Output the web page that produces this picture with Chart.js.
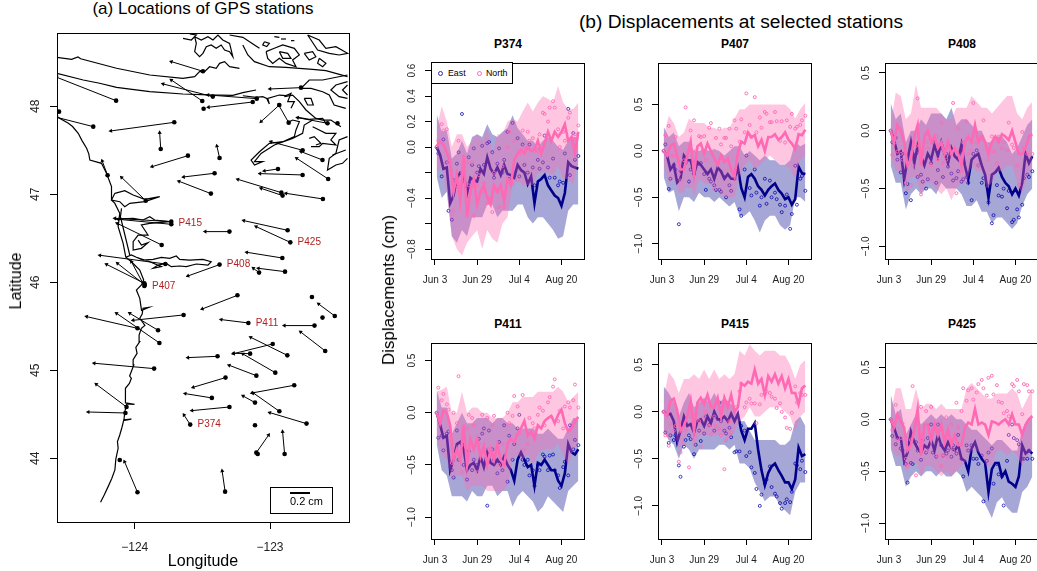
<!DOCTYPE html>
<html>
<head>
<meta charset="utf-8">
<script src="https://cdn.jsdelivr.net/npm/chart.js@4"></script>
<style>
    html, body { margin: 0; padding: 0; background: #fff; overflow: hidden; width: 1037px; height: 571px; }
    body { position: relative; font-family: "Liberation Sans", Arial, sans-serif; color: #000; }
    canvas { position: absolute; }
    .txt { position: absolute; white-space: nowrap; transform: translate(-50%, -50%); z-index: 3; }
    .rot { transform: translate(-50%, -50%) rotate(-90deg); }
    .legend { position: absolute; left: 431px; top: 62px; width: 80px; height: 20px; border: 1px solid #000; background: #fff; font-size: 8.8px; z-index: 3; }
    .legend i { position: absolute; top: 8px; width: 3px; height: 3px; border-radius: 50%; border: 1px solid; }
    .legend span { position: absolute; top: 5px; }
    .scalebox { position: absolute; left: 270px; top: 487px; width: 61px; height: 25px; border: 1px solid #000; z-index: 3; }
    .scalebar { position: absolute; left: 19px; top: 4px; width: 20px; height: 2px; background: #000; }
    .scaletxt { position: absolute; left: 19px; top: 7px; font-size: 11px; }
</style>
</head>
<body>
<div class="legend">
    <i style="left:6px;border-color:#2a2aa8"></i><span style="left:16px">East</span>
    <i style="left:45px;border-color:#ff69b4"></i><span style="left:54px">North</span>
</div>
<div class="scalebox"><div class="scalebar"></div><div class="scaletxt">0.2 cm</div></div>
<script>
// ---- map: stations, arrow tips (null = no arrow), coast pieces ----
const stationLon = [-124.138,-123.496,-123.501,-123.423,-123.098,-123.128,-123.491,-122.771,-122.931,-122.862,-124.560,-124.307,-123.708,-123.808,-123.373,-123.607,-124.201,-123.919,-123.410,-123.437,-122.941,-122.759,-122.916,-122.907,-122.609,-122.570,-122.612,-122.759,-122.870,-122.850,-123.300,-123.730,-123.730,-123.801,-122.909,-122.889,-123.081,-123.373,-123.774,-123.929,-123.926,-123.929,-122.575,-122.501,-123.241,-122.690,-122.612,-122.521,-123.639,-123.828,-123.980,-123.818,-123.160,-122.671,-122.592,-122.872,-122.980,-123.147,-122.961,-123.388,-123.857,-123.101,-123.329,-122.821,-123.430,-123.111,-122.931,-123.300,-122.730,-124.061,-124.069,-123.590,-123.111,-123.101,-123.091,-122.892,-124.111,-123.980,-123.332];
const stationLat = [48.064,48.398,48.061,48.110,48.087,48.049,47.973,48.212,48.015,47.814,47.939,47.769,47.818,47.515,47.413,47.439,47.216,46.928,47.239,47.008,47.288,47.220,47.019,46.985,46.947,47.174,47.390,47.500,46.591,46.454,46.576,46.689,46.659,46.424,46.276,46.121,46.110,46.201,46.208,45.989,45.970,45.958,47.807,47.807,45.852,45.833,45.599,45.617,45.629,45.455,45.477,45.311,45.538,45.508,45.220,45.170,45.299,45.189,44.973,45.159,45.019,44.939,44.917,44.830,44.686,44.633,44.534,44.583,44.394,44.583,44.515,44.383,44.375,44.064,44.049,44.049,43.981,43.614,43.621];
const tipLon = [-124.577,-123.730,-123.730,-123.791,-123.459,-123.455,null,-123.000,-123.066,-122.936,null,-124.577,-124.177,-123.816,-123.393,-123.872,-124.241,-124.098,-123.639,-123.673,-123.042,-123.074,-123.238,-123.066,-122.882,-122.803,-122.771,-122.993,-123.194,-123.103,-123.479,-124.147,-124.123,-124.130,-123.172,-123.086,-123.123,-123.607,-124.258,-124.209,-124.128,-124.025,-122.796,null,-123.501,null,null,-122.641,-124.012,-124.037,-124.356,-124.135,-123.361,-122.894,-122.774,-123.143,-123.270,-123.270,-123.201,-123.607,-124.300,-123.302,-123.568,-123.133,-123.627,-123.199,-123.123,-123.577,-123.002,-124.285,-124.344,-123.636,null,-123.010,null,-122.907,null,-124.076,-123.354];
const tipLat = [48.330,48.508,48.299,48.254,48.129,47.989,null,48.197,47.826,48.015,null,47.875,47.720,47.701,47.549,47.314,47.379,47.193,47.197,47.148,47.265,47.235,47.170,47.068,47.011,47.409,47.485,47.598,46.701,46.633,46.576,46.727,46.716,46.670,46.341,46.159,46.159,46.072,46.307,46.204,46.216,46.235,47.871,null,45.697,null,null,45.754,45.568,45.648,45.610,45.648,45.576,45.508,45.436,45.375,45.189,45.193,45.186,45.144,45.080,45.057,44.807,44.742,44.735,44.708,44.742,44.542,44.519,44.841,44.526,44.492,null,44.265,null,44.303,null,43.962,43.856];

const stationLabels = ['P415', 'P425', 'P408', 'P407', 'P411', 'P374'];
const stationLabelLon = [-123.730, -122.850, -123.373, -123.926, -123.160, -123.590];
const stationLabelLat = [46.672, 46.454, 46.201, 45.955, 45.538, 44.383];

const coastSouth = [[-124.253,43.500],[-124.225,43.585],[-124.197,43.678],[-124.170,43.770],[-124.147,43.867],[-124.140,43.990],[-124.123,44.114],[-124.128,44.190],[-124.111,44.265],[-124.095,44.350],[-124.081,44.436],[-124.025,44.445],[-124.081,44.430],[-124.072,44.540],[-124.060,44.618],[-124.002,44.612],[-124.066,44.630],[-124.072,44.720],[-124.066,44.795],[-124.040,44.850],[-124.025,44.909],[-124.038,44.935],[-124.007,45.061],[-124.012,45.120],[-123.983,45.193],[-123.992,45.260],[-123.963,45.326],[-123.968,45.400],[-123.951,45.477],[-123.925,45.510],[-123.963,45.591],[-123.945,45.640],[-123.939,45.705],[-123.894,45.715],[-123.950,45.680],[-123.963,45.818],[-123.988,45.912],[-123.951,45.969],[-123.934,46.026],[-123.963,46.140],[-124.025,46.234],[-124.066,46.284]];
const columbiaRiver = [[-124.066,46.284],[-124.025,46.310],[-123.988,46.284],[-123.939,46.253],[-123.865,46.261],[-123.803,46.284],[-123.742,46.272],[-123.693,46.299],[-123.668,46.261],[-123.595,46.253],[-123.496,46.261],[-123.435,46.234],[-123.459,46.196],[-123.545,46.208],[-123.619,46.178],[-123.668,46.185],[-123.730,46.178],[-123.767,46.215],[-123.828,46.196],[-123.865,46.159],[-123.803,46.178],[-123.889,46.234],[-123.988,46.284]];
const longBeach = [[-124.066,46.284],[-124.086,46.443],[-124.123,46.632],[-124.111,46.784],[-124.147,46.897],[-124.172,46.935]];
const longBeachInner = [[-124.098,46.840],[-124.106,46.746],[-124.037,46.310]];
const willapaBay = [[-124.147,46.719],[-124.012,46.727],[-123.939,46.708],[-123.889,46.746],[-123.853,46.708],[-123.742,46.689],[-123.889,46.670],[-123.951,46.651],[-123.902,46.537],[-123.975,46.537],[-124.012,46.462],[-124.012,46.367],[-123.951,46.386],[-123.902,46.450],[-123.951,46.424],[-123.975,46.480]];
const graysHarbor = [[-124.147,47.011],[-124.074,47.041],[-124.012,46.992],[-123.926,46.943],[-123.816,46.973],[-123.926,46.916],[-124.037,46.897],[-124.074,46.859],[-124.111,46.916],[-124.172,46.935],[-124.147,47.011]];
const coastNorth = [[-124.172,46.935],[-124.172,47.087],[-124.209,47.238],[-124.246,47.352],[-124.332,47.390],[-124.340,47.460],[-124.356,47.523],[-124.390,47.610],[-124.418,47.693],[-124.460,47.770],[-124.491,47.807],[-124.577,47.883]];
const straitSouth = [[-124.577,48.375],[-124.381,48.299],[-124.260,48.262],[-124.135,48.216],[-123.889,48.167],[-123.644,48.140],[-123.459,48.129],[-123.275,48.125],[-123.201,48.155],[-123.103,48.185]];
const straitEnd = [[-123.201,48.120],[-123.103,48.102],[-123.054,48.109],[-123.024,48.090],[-123.005,48.026],[-123.017,48.090],[-122.931,48.128],[-122.882,48.121],[-122.845,48.147],[-122.869,48.053],[-122.820,48.053],[-122.845,47.977]];
const straitNorth = [[-124.577,48.557],[-124.467,48.534],[-124.420,48.560],[-124.400,48.540],[-124.135,48.432],[-123.889,48.356],[-123.644,48.318],[-123.557,48.337],[-123.521,48.394],[-123.484,48.394],[-123.447,48.450],[-123.398,48.431],[-123.373,48.488],[-123.336,48.507],[-123.299,48.450],[-123.226,48.431]];
const islandCluster = [[-123.557,48.791],[-123.545,48.715],[-123.557,48.621],[-123.521,48.564],[-123.496,48.602],[-123.471,48.678],[-123.435,48.697],[-123.398,48.659],[-123.361,48.697],[-123.336,48.640],[-123.299,48.621],[-123.275,48.564],[-123.299,48.715],[-123.349,48.753],[-123.385,48.810],[-123.422,48.753],[-123.459,48.791],[-123.508,48.753],[-123.557,48.791]];
const topLeftBit = [[-123.643,48.772],[-123.582,48.753],[-123.545,48.810],[-123.594,48.822]];
const mainlandNorth = [[-123.201,48.697],[-123.164,48.583],[-123.115,48.507],[-123.005,48.450],[-122.882,48.443],[-122.685,48.420],[-122.587,48.405],[-122.427,48.337]];
const sanJuanA = [[-123.029,48.621],[-122.968,48.659],[-122.906,48.697],[-122.820,48.659],[-122.783,48.583],[-122.833,48.526],[-122.808,48.450],[-122.882,48.488],[-122.931,48.545],[-122.980,48.488],[-123.017,48.545],[-123.029,48.621]];
const sanJuanB = [[-122.931,48.621],[-122.869,48.602],[-122.845,48.545],[-122.906,48.545],[-122.931,48.621]];
const sanJuanC = [[-122.722,48.810],[-122.636,48.753],[-122.587,48.659],[-122.513,48.678],[-122.427,48.602],[-122.489,48.583],[-122.562,48.602],[-122.648,48.640],[-122.697,48.753],[-122.722,48.810]];
const sanJuanD = [[-122.747,48.602],[-122.685,48.621],[-122.661,48.564],[-122.710,48.526],[-122.747,48.602]];
const sanJuanE = [[-122.636,48.545],[-122.587,48.488],[-122.611,48.450],[-122.648,48.488],[-122.636,48.545]];
const sanJuanF = [[-123.041,48.734],[-123.005,48.715],[-123.024,48.678],[-123.054,48.697],[-123.041,48.734]];
const sanJuanG = [[-123.299,48.810],[-123.201,48.784],[-123.115,48.697],[-123.078,48.659]];
const dashA = [[-122.968,48.791],[-122.931,48.784]];
const dashB = [[-122.919,48.765],[-122.882,48.765]];
const dashC = [[-122.845,48.746],[-122.820,48.746]];
const pugetEast = [[-122.427,48.356],[-122.611,48.299],[-122.710,48.299],[-122.771,48.204],[-122.697,48.204],[-122.611,48.166],[-122.562,48.128],[-122.526,48.015],[-122.440,47.977]];
const pugetInnerA = [[-122.427,48.280],[-122.513,48.242],[-122.550,48.185],[-122.489,48.109],[-122.427,48.090]];
const pugetInnerB = [[-122.427,48.242],[-122.464,48.185],[-122.427,48.128]];
const whidbey = [[-122.894,48.109],[-122.833,48.128],[-122.783,48.053],[-122.734,47.958],[-122.661,47.863],[-122.611,47.844],[-122.550,47.844],[-122.476,47.768]];
const smallIsland = [[-122.747,48.090],[-122.697,48.090],[-122.680,48.015],[-122.722,48.015],[-122.747,48.090]];
const soundTop = [[-122.796,47.875],[-122.710,47.852],[-122.611,47.863],[-122.587,47.806]];
const hoodCanal = [[-122.857,47.825],[-122.833,47.844],[-122.783,47.825],[-122.808,47.731],[-122.820,47.655],[-122.906,47.598],[-123.005,47.579],[-123.078,47.484],[-123.140,47.390],[-123.115,47.333],[-123.054,47.371],[-123.115,47.371],[-123.066,47.465],[-122.968,47.560],[-122.833,47.636],[-122.759,47.693],[-122.747,47.787],[-122.685,47.844]];
const soundA = [[-122.685,47.768],[-122.636,47.731],[-122.587,47.693],[-122.513,47.693],[-122.550,47.617],[-122.513,47.560],[-122.611,47.579],[-122.636,47.541],[-122.697,47.541]];
const soundB = [[-122.710,47.636],[-122.673,47.655],[-122.624,47.579],[-122.661,47.560]];
const soundC = [[-122.427,47.655],[-122.489,47.617],[-122.513,47.465],[-122.562,47.409],[-122.575,47.276],[-122.513,47.333],[-122.464,47.352],[-122.427,47.409]];
const soundD = [[-122.538,47.446],[-122.440,47.503]];
const coastPieces = [coastSouth, columbiaRiver, longBeach, longBeachInner, willapaBay, graysHarbor, coastNorth, straitSouth, straitEnd, straitNorth, islandCluster, topLeftBit, mainlandNorth, sanJuanA, sanJuanB, sanJuanC, sanJuanD, sanJuanE, sanJuanF, sanJuanG, dashA, dashB, dashC, pugetEast, pugetInnerA, pugetInnerB, whidbey, smallIsland, soundTop, hoodCanal, soundA, soundB, soundC, soundD];

const lonTicks = [-124, -123];
const lonTickLabels = ['\u2212124', '\u2212123'];
const latTicks = [44, 45, 46, 47, 48];
const latTickLabels = ['44', '45', '46', '47', '48'];

// ---- time series: observation days and tick labels ----
const lineDays = [1,3,5,7,9,11,13,15,17,19,21,23,25,27,29,31,33,35,37,39,41,43,45,47,49,51,53,55,57,59,61,63,65,67,69,71,73,75,77,79,81,83,85];
const bandDays = [1,4,7,10,13,16,19,22,25,28,31,34,37,40,43,46,49,52,55,58,61,64,67,70,73,76,79,82,85];
const dotDays = [1,2,4,5,7,8,10,11,13,14,16,17,19,20,22,23,25,26,28,29,31,32,34,35,37,38,40,41,43,44,46,47,49,50,52,53,55,56,58,59,61,62,64,65,67,68,70,71,73,74,76,77,79,80,82,83,85];
const dayTicks = [0, 25, 50, 75];
const dayTickLabels = ['Jun 3', 'Jun 29', 'Jul 4', 'Aug 20'];

// P374
const p374EastLine = [0,-0.06,-0.17,-0.16,-0.44,-0.38,-0.24,-0.20,-0.22,-0.36,-0.24,-0.26,-0.27,-0.17,-0.21,-0.08,-0.17,-0.21,-0.16,-0.22,-0.14,-0.21,-0.22,-0.24,-0.14,-0.18,-0.20,-0.29,-0.23,-0.44,-0.27,-0.25,-0.22,-0.30,-0.34,-0.38,-0.40,-0.46,-0.36,-0.12,-0.15,-0.16,-0.17];
const p374NorthLine = [0.01,0.04,0.02,-0.04,-0.12,-0.35,-0.22,-0.42,-0.06,-0.55,-0.35,-0.25,-0.45,-0.35,-0.30,-0.40,-0.45,-0.30,-0.35,-0.30,-0.42,-0.25,-0.30,-0.10,-0.05,-0.02,-0.05,0.0,-0.03,-0.02,0.05,-0.05,0.03,0.12,0.05,0.12,0.08,0.12,0.18,0.05,0.08,-0.05,0.12];
const p374EastUp = [0.26,0.12,0.13,-0.09,-0.05,0.05,-0.05,0.08,0.10,0.08,0.18,0.10,0.08,0.12,0.15,0.25,0.15,0.10,0.05,0.05,0.0,0.05,0.08,0.05,0.0,-0.02,0.05,0.08,0.08];
const p374EastLo = [-0.23,-0.40,-0.35,-0.70,-0.75,-0.65,-0.70,-0.55,-0.55,-0.55,-0.45,-0.45,-0.55,-0.50,-0.50,-0.50,-0.45,-0.45,-0.55,-0.60,-0.55,-0.55,-0.60,-0.65,-0.72,-0.70,-0.50,-0.45,-0.45];
const p374NorthUp = [0.15,0.32,0.20,0.0,0.10,0.10,0.0,0.05,0.10,0.05,0.15,-0.05,0.10,0.10,0.20,0.22,0.20,0.28,0.35,0.28,0.35,0.40,0.38,0.35,0.48,0.35,0.30,0.30,0.35];
const p374NorthLo = [-0.20,-0.15,-0.35,-0.70,-0.80,-0.85,-0.75,-0.70,-0.65,-0.80,-0.65,-0.72,-0.75,-0.60,-0.55,-0.30,-0.25,-0.30,-0.30,-0.30,-0.20,-0.20,-0.20,-0.22,-0.15,-0.25,-0.25,-0.30,-0.10];
const p374EastDots = [0,-0.05,-0.23,0.06,-0.12,-0.50,-0.57,-0.26,-0.13,-0.04,0.26,-0.25,-0.32,-0.08,-0.14,-0.01,-0.20,-0.15,0.01,-0.14,0.03,0.04,-0.04,-0.24,-0.13,-0.01,-0.20,-0.10,0.12,-0.25,0.19,-0.20,0.07,-0.23,0.02,-0.14,-0.20,0.02,-0.16,-0.30,-0.10,-0.17,-0.12,0.09,-0.16,-0.24,-0.09,-0.24,-0.30,-0.27,-0.28,-0.05,0.30,-0.22,0.11,-0.10,-0.07];
const p374NorthDots = [0,0.05,0.18,0.13,0.14,-0.12,-0.53,-0.50,-0.30,0.05,-0.20,-0.25,-0.12,-0.30,-0.12,-0.54,-0.30,-0.22,-0.35,-0.28,-0.44,-0.40,-0.51,-0.20,-0.35,-0.47,-0.15,-0.47,0.0,0.12,-0.29,0.05,-0.26,-0.05,0.13,0.0,0.12,0.05,0.07,-0.03,-0.03,0.10,0.27,0.26,0.20,0.31,0.36,0.31,0.14,0.0,0.12,0.05,0.23,0.27,0.06,0.10,0.17];

// P407
const p407EastLine = [0,-0.05,-0.20,-0.15,-0.34,-0.30,-0.05,-0.10,-0.10,-0.25,-0.12,-0.15,-0.20,-0.25,-0.20,-0.30,-0.18,-0.22,-0.30,-0.25,-0.30,-0.30,-0.18,-0.40,-0.50,-0.28,-0.25,-0.30,-0.38,-0.42,-0.48,-0.42,-0.38,-0.35,-0.42,-0.46,-0.52,-0.50,-0.58,-0.52,-0.17,-0.24,-0.25];
const p407NorthLine = [0,-0.05,0.05,0.08,-0.05,-0.20,-0.20,-0.05,0.10,-0.25,0.05,0.08,-0.03,0.08,0.0,-0.08,-0.15,-0.05,-0.12,-0.08,-0.20,-0.28,-0.02,0.10,0.08,0.20,0.15,0.17,0.05,0.12,0.0,0.15,0.15,0.18,0.12,0.15,0.20,0.12,0.08,0.02,0.18,0.17,0.23];
const p407EastUp = [0.26,0.15,0.20,0.05,0.10,0.10,0.0,0.0,0.02,0.0,0.02,0.0,-0.05,0.0,0.05,0.05,-0.05,0.0,-0.05,-0.10,-0.05,-0.10,-0.10,-0.15,-0.15,-0.10,0.10,0.05,0.08];
const p407EastLo = [-0.28,-0.45,-0.42,-0.65,-0.50,-0.50,-0.55,-0.45,-0.50,-0.50,-0.55,-0.50,-0.55,-0.60,-0.55,-0.70,-0.70,-0.65,-0.75,-0.88,-0.75,-0.70,-0.70,-0.80,-0.85,-0.80,-0.50,-0.50,-0.55];
const p407NorthUp = [0.15,0.38,0.30,0.15,0.20,0.35,0.30,0.30,0.30,0.25,0.25,0.22,0.25,0.25,0.35,0.45,0.45,0.50,0.50,0.50,0.50,0.50,0.50,0.50,0.50,0.45,0.35,0.45,0.52];
const p407NorthLo = [-0.15,-0.35,-0.30,-0.45,-0.45,-0.30,-0.50,-0.30,-0.35,-0.35,-0.40,-0.45,-0.50,-0.50,-0.50,-0.25,-0.15,-0.10,-0.20,-0.15,-0.10,-0.05,-0.10,-0.15,-0.15,-0.20,-0.30,-0.10,-0.05];
const p407EastDots = [0,0.07,-0.41,-0.30,-0.15,-0.20,-0.79,-0.22,-0.10,-0.13,-0.33,-0.20,-0.25,-0.12,-0.14,-0.13,-0.25,-0.42,-0.30,-0.33,-0.37,-0.42,-0.42,-0.44,-0.28,-0.50,-0.37,-0.43,-0.30,-0.20,-0.63,-0.70,-0.20,-0.05,-0.40,-0.48,-0.20,-0.45,-0.59,-0.50,-0.30,-0.57,-0.32,-0.50,-0.45,-0.52,-0.58,-0.66,-0.59,-0.47,-0.84,-0.68,-0.16,-0.58,-0.30,-0.27,-0.43];
const p407NorthDots = [0,0.17,0.27,-0.05,-0.05,0.15,-0.25,-0.32,-0.10,0.47,-0.38,0.22,0.33,0.0,0.16,0.15,0.16,-0.10,0.25,0.30,-0.41,0.14,0.24,0.07,0.14,0.14,0.24,0.05,0.33,0.24,0.10,0.34,0.20,0.62,0.28,0.15,0.58,0.20,0.36,0.25,0.42,0.40,0.31,0.31,0.42,0.32,0.11,0.32,0.09,0.33,0.26,0.40,0.24,0.26,0.28,0.33,0.38];

// P408
const p408EastLine = [0,-0.08,-0.20,-0.18,-0.42,-0.25,-0.10,-0.28,-0.13,-0.22,-0.30,-0.20,-0.25,-0.12,-0.22,-0.10,-0.20,-0.28,-0.15,-0.22,-0.25,-0.12,-0.30,-0.42,-0.25,-0.22,-0.20,-0.30,-0.38,-0.58,-0.38,-0.36,-0.32,-0.40,-0.45,-0.48,-0.55,-0.50,-0.56,-0.45,-0.20,-0.28,-0.22];
const p408NorthLine = [0,-0.10,0.05,0.0,-0.10,-0.30,-0.25,-0.05,0.05,-0.30,-0.05,0.0,-0.10,-0.05,-0.15,-0.10,-0.20,-0.10,-0.20,-0.15,-0.20,-0.30,-0.10,-0.05,-0.10,0.05,-0.10,-0.05,-0.10,-0.20,-0.10,-0.05,-0.10,-0.03,-0.05,-0.08,0.0,-0.10,-0.20,-0.20,-0.15,-0.05,-0.03];
const p408EastUp = [0.24,0.10,0.15,-0.10,0.0,0.0,0.10,0.05,0.15,0.15,0.15,0.10,0.20,0.05,0.10,0.10,0.05,0.0,0.0,-0.10,-0.10,-0.05,-0.05,-0.10,-0.20,-0.15,-0.05,0.05,0.10];
const p408EastLo = [-0.30,-0.45,-0.45,-0.68,-0.55,-0.50,-0.55,-0.50,-0.50,-0.55,-0.45,-0.50,-0.50,-0.50,-0.55,-0.65,-0.65,-0.60,-0.70,-0.70,-0.80,-0.75,-0.75,-0.80,-0.85,-0.80,-0.65,-0.55,-0.50];
const p408NorthUp = [0.05,0.33,0.30,0.10,0.15,0.40,0.20,0.20,0.20,0.20,0.15,0.10,0.10,0.20,0.20,0.20,0.30,0.25,0.20,0.20,0.15,0.20,0.25,0.30,0.30,0.15,0.10,0.20,0.25];
const p408NorthLo = [-0.20,-0.35,-0.35,-0.50,-0.40,-0.40,-0.55,-0.45,-0.45,-0.50,-0.55,-0.50,-0.60,-0.50,-0.45,-0.45,-0.30,-0.35,-0.35,-0.50,-0.45,-0.35,-0.35,-0.30,-0.30,-0.45,-0.55,-0.40,-0.30];
const p408EastDots = [0,-0.10,-0.06,-0.25,-0.36,-0.20,-0.54,-0.46,-0.60,-0.10,-0.20,-0.40,-0.38,-0.44,-0.50,-0.42,-0.28,-0.10,-0.45,-0.34,-0.15,-0.40,-0.20,-0.31,-0.37,-0.43,-0.41,-0.35,-0.44,-0.42,-0.40,-0.45,-0.60,-0.20,-0.17,-0.30,-0.45,-0.41,-0.47,-0.62,-0.80,-0.73,-0.47,-0.56,-0.57,-0.50,-0.67,-0.52,-0.79,-0.77,-0.68,-0.75,-0.64,-0.41,-0.38,-0.40,-0.35];
const p408NorthDots = [0,-0.21,-0.10,-0.18,-0.20,-0.25,-0.45,-0.50,-0.47,-0.30,-0.13,0.28,-0.55,-0.20,-0.10,-0.15,-0.30,-0.10,-0.05,-0.25,0.07,-0.28,-0.25,-0.10,-0.20,0.24,-0.54,0.02,-0.35,-0.10,0.08,-0.20,-0.17,0.24,-0.10,-0.30,-0.05,0.09,-0.15,-0.25,-0.05,-0.18,-0.28,-0.05,-0.15,-0.10,-0.17,0.07,-0.12,-0.15,-0.30,-0.47,-0.01,-0.15,-0.20,-0.05,-0.20];

// P411
const p411EastLine = [0,-0.11,-0.24,-0.22,-0.55,-0.45,-0.30,-0.28,-0.35,-0.55,-0.50,-0.48,-0.55,-0.42,-0.52,-0.38,-0.48,-0.50,-0.45,-0.50,-0.42,-0.50,-0.55,-0.65,-0.45,-0.38,-0.45,-0.52,-0.50,-0.70,-0.48,-0.50,-0.45,-0.50,-0.55,-0.55,-0.65,-0.70,-0.58,-0.30,-0.38,-0.40,-0.35];
const p411NorthLine = [0,-0.10,0.02,0.0,-0.12,-0.45,-0.35,-0.45,-0.12,-0.50,-0.25,-0.35,-0.25,-0.42,-0.32,-0.50,-0.35,-0.45,-0.30,-0.45,-0.50,-0.30,-0.25,-0.28,-0.20,-0.15,-0.08,-0.22,-0.18,-0.25,-0.12,-0.15,-0.08,-0.05,-0.03,-0.10,-0.02,0.03,-0.10,-0.18,-0.15,-0.08,-0.04];
const p411EastUp = [0.22,0.05,0.05,-0.20,-0.10,0.0,-0.10,-0.10,-0.05,-0.05,-0.05,-0.10,-0.05,-0.05,-0.10,-0.10,-0.15,-0.15,-0.15,-0.15,-0.20,-0.20,-0.15,-0.20,-0.25,-0.25,-0.15,-0.05,-0.05];
const p411EastLo = [-0.30,-0.55,-0.60,-0.80,-0.80,-0.80,-0.85,-0.75,-0.80,-0.80,-0.70,-0.70,-0.80,-0.75,-0.75,-0.90,-0.80,-0.75,-0.80,-0.85,-0.95,-0.90,-0.80,-0.85,-0.90,-0.95,-0.75,-0.70,-0.65];
const p411NorthUp = [0.20,0.22,0.25,0.0,0.0,0.20,0.0,0.05,0.05,0.0,0.0,-0.05,-0.05,-0.05,0.0,0.10,0.10,0.15,0.15,0.15,0.20,0.20,0.20,0.20,0.25,0.20,0.10,0.15,0.20];
const p411NorthLo = [-0.25,-0.40,-0.45,-0.65,-0.60,-0.60,-0.75,-0.70,-0.70,-0.70,-0.75,-0.75,-0.75,-0.75,-0.70,-0.45,-0.40,-0.45,-0.40,-0.50,-0.40,-0.35,-0.35,-0.35,-0.30,-0.40,-0.50,-0.35,-0.30];
const p411EastDots = [0,-0.24,-0.22,-0.36,-0.20,-0.18,-0.55,-0.62,-0.17,-0.45,-0.30,-0.50,-0.64,-0.37,-0.55,-0.45,-0.50,-0.25,-0.20,-0.15,-0.89,-0.17,-0.35,-0.45,-0.58,-0.28,-0.55,-0.12,-0.66,-0.22,-0.45,-0.30,-0.15,-0.02,-0.45,-0.50,-0.45,-0.60,-0.55,-0.70,-0.50,-0.55,-0.40,-0.42,-0.55,-0.41,-0.40,-0.55,-0.60,-0.72,-0.52,-0.47,-0.60,-0.12,-0.35,-0.26,-0.31];
const p411NorthDots = [0,0.24,0.12,0.18,0.08,0.03,-0.48,0.0,-0.10,0.35,-0.57,-0.13,-0.15,-0.02,-0.05,-0.12,-0.57,-0.30,-0.02,-0.38,-0.05,-0.35,-0.12,-0.03,-0.40,-0.50,-0.30,-0.50,0.0,-0.10,-0.03,0.16,0.06,-0.20,0.17,-0.35,-0.30,-0.05,-0.10,-0.15,-0.02,0.05,0.02,-0.12,0.10,0.15,0.25,0.32,-0.08,0.02,-0.15,0.06,0.10,0.05,0.12,0.27,0.05];

// P415
const p415EastLine = [0,-0.03,-0.02,-0.10,-0.32,-0.20,-0.05,-0.15,-0.13,-0.22,-0.10,-0.08,-0.15,-0.05,-0.12,0.0,-0.08,-0.08,-0.05,-0.10,-0.02,-0.10,-0.02,-0.20,-0.30,-0.18,-0.18,-0.12,-0.40,-0.62,-0.78,-0.65,-0.58,-0.55,-0.62,-0.68,-0.75,-0.75,-0.82,-0.72,-0.38,-0.47,-0.45];
const p415NorthLine = [0,-0.05,0.12,0.14,0.02,-0.20,-0.15,-0.05,0.12,-0.20,0.10,0.15,0.08,0.18,0.05,0.05,0.15,-0.05,0.15,0.05,0.18,0.0,0.05,0.30,0.28,0.32,0.30,0.45,0.30,0.35,0.18,0.38,0.32,0.40,0.30,0.38,0.25,0.35,0.20,0.20,0.08,0.25,0.28];
const p415EastUp = [0.27,0.20,0.10,-0.05,0.10,0.20,0.05,0.10,0.15,0.10,0.20,0.10,0.15,0.10,0.05,-0.10,-0.10,-0.20,-0.30,-0.30,-0.30,-0.30,-0.30,-0.35,-0.35,-0.30,-0.10,-0.05,-0.15];
const p415EastLo = [-0.20,-0.30,-0.35,-0.50,-0.35,-0.40,-0.50,-0.40,-0.40,-0.40,-0.40,-0.35,-0.35,-0.40,-0.35,-0.55,-0.55,-0.60,-0.75,-0.85,-0.95,-0.90,-0.90,-1.00,-1.05,-1.10,-0.85,-0.75,-0.75];
const p415NorthUp = [0.15,0.42,0.35,0.20,0.35,0.35,0.40,0.35,0.45,0.35,0.45,0.35,0.40,0.35,0.40,0.65,0.60,0.72,0.65,0.60,0.65,0.65,0.65,0.60,0.60,0.50,0.35,0.50,0.55];
const p415NorthLo = [-0.20,-0.30,-0.20,-0.40,-0.30,-0.20,-0.40,-0.25,-0.25,-0.25,-0.25,-0.25,-0.25,-0.30,-0.20,-0.10,-0.05,0.05,-0.05,-0.05,0.0,0.05,0.05,0.05,0.0,-0.05,-0.20,-0.05,0.0];
const p415EastDots = [0,-0.22,-0.33,-0.25,-0.30,-0.25,-0.57,-0.69,-0.37,-0.30,-0.25,-0.29,-0.45,-0.35,-0.20,-0.31,-0.23,-0.05,-0.14,-0.10,-0.20,-0.05,0.10,-0.10,-0.20,-0.23,-0.17,-0.27,-0.43,-0.42,-0.42,-0.15,-0.20,-0.47,-0.43,-0.59,-0.65,-0.82,-1.00,-0.88,-0.76,-0.72,-0.58,-0.80,-0.87,-0.90,-0.97,-1.03,-0.97,-0.93,-0.96,-0.85,-0.55,-0.57,-0.61,-0.52,-0.64];
const p415NorthDots = [0,-0.25,-0.36,-0.13,-0.20,-0.15,-0.53,-0.43,-0.33,-0.20,-0.59,-0.05,-0.10,-0.02,-0.10,-0.37,-0.05,0.0,-0.15,-0.24,-0.05,-0.15,-0.18,-0.25,-0.61,-0.30,-0.10,-0.22,0.0,0.05,0.22,0.30,0.05,0.10,0.14,0.09,0.09,-0.12,0.08,0.18,0.19,0.22,0.20,0.16,0.14,0.04,0.09,0.0,-0.06,-0.17,-0.18,-0.01,0.27,0.10,0.20,0.18,0.18];

// P425
const p425EastLine = [0,-0.08,-0.18,-0.18,-0.40,-0.32,-0.12,-0.22,-0.28,-0.32,-0.25,-0.28,-0.20,-0.30,-0.15,-0.25,-0.30,-0.22,-0.28,-0.30,-0.25,-0.38,-0.40,-0.50,-0.28,-0.22,-0.32,-0.38,-0.42,-0.70,-0.48,-0.42,-0.42,-0.55,-0.50,-0.60,-0.62,-0.65,-0.55,-0.25,-0.33,-0.30,-0.33];
const p425NorthLine = [0,-0.07,0.05,-0.02,-0.08,-0.30,-0.25,-0.10,0.10,-0.35,-0.05,-0.05,-0.20,-0.05,-0.15,-0.05,-0.22,-0.10,-0.25,-0.15,-0.25,-0.25,-0.08,-0.03,-0.05,0.10,-0.05,-0.03,-0.05,-0.15,-0.02,-0.03,-0.05,-0.02,0.0,-0.05,0.05,-0.05,-0.05,-0.15,-0.05,0.0,0.03];
const p425EastUp = [0.24,0.05,0.10,-0.15,-0.05,0.05,-0.05,0.0,0.05,0.0,0.05,0.0,0.05,0.0,0.0,-0.05,-0.10,-0.10,-0.15,-0.20,-0.25,-0.20,-0.20,-0.25,-0.30,-0.30,-0.10,0.0,0.05];
const p425EastLo = [-0.28,-0.45,-0.45,-0.65,-0.55,-0.50,-0.55,-0.50,-0.50,-0.55,-0.50,-0.55,-0.55,-0.50,-0.55,-0.70,-0.65,-0.70,-0.75,-0.85,-0.95,-0.80,-0.75,-0.85,-0.90,-0.90,-0.70,-0.65,-0.55];
const p425NorthUp = [0.05,0.30,0.30,0.10,0.10,0.30,0.10,0.15,0.15,0.10,0.15,0.10,0.10,0.10,0.10,0.30,0.35,0.30,0.25,0.20,0.20,0.25,0.25,0.25,0.30,0.25,0.10,0.20,0.30];
const p425NorthLo = [-0.25,-0.35,-0.35,-0.50,-0.45,-0.40,-0.55,-0.45,-0.45,-0.50,-0.55,-0.50,-0.55,-0.50,-0.45,-0.40,-0.30,-0.30,-0.35,-0.45,-0.45,-0.30,-0.30,-0.35,-0.30,-0.35,-0.45,-0.35,-0.30];
const p425EastDots = [0,-0.16,-0.24,-0.18,-0.28,-0.30,-0.43,-0.61,-0.42,-0.43,-0.22,-0.30,-0.39,-0.20,-0.32,-0.18,-0.05,-0.32,-0.36,-0.05,-0.25,-0.35,-0.33,-0.30,-0.36,-0.25,-0.33,-0.15,-0.38,-0.55,-0.25,-0.30,-0.25,-0.38,-0.38,-0.43,-0.35,-0.79,-0.40,-0.32,-0.28,-0.62,-0.43,-0.53,-0.55,-0.83,-0.40,-0.15,-0.05,-0.18,-0.20,-0.24,-0.38,-0.38,-0.38,-0.30,-0.38];
const p425NorthDots = [0,-0.10,0.14,-0.20,-0.18,-0.04,-0.38,-0.45,-0.20,0.32,-0.54,-0.05,0.12,-0.15,0.08,-0.30,0.12,-0.10,-0.05,-0.35,-0.45,-0.35,0.02,-0.36,-0.05,-0.30,0.16,-0.08,0.08,0.30,0.18,0.28,0.30,0.19,0.26,0.34,0.38,0.30,0.23,0.40,0.42,0.24,0.33,0.17,0.16,0.06,0.08,0.03,0.34,0.32,0.38,0.27,0.05,0.34,0.33,0.27,0.27];

const panels = [
    { name: 'P374', plot: [431, 62, 155, 197], yMin: -0.878, yMax: 0.66, yTicks: [-0.8,-0.6,-0.4,-0.2,0,0.2,0.4,0.6], yLabels: ['\u22120.8','','\u22120.4','','0.0','0.2','0.4','0.6'],
      eastLine: p374EastLine, northLine: p374NorthLine, eastUp: p374EastUp, eastLo: p374EastLo, northUp: p374NorthUp, northLo: p374NorthLo, eastDots: p374EastDots, northDots: p374NorthDots },
    { name: 'P407', plot: [658, 62, 155, 197], yMin: -1.165, yMax: 0.948, yTicks: [-1,-0.5,0,0.5], yLabels: ['\u22121.0','\u22120.5','0.0','0.5'],
      eastLine: p407EastLine, northLine: p407NorthLine, eastUp: p407EastUp, eastLo: p407EastLo, northUp: p407NorthUp, northLo: p407NorthLo, eastDots: p407EastDots, northDots: p407NorthDots },
    { name: 'P408', plot: [885, 62, 155, 197], yMin: -1.109, yMax: 0.586, yTicks: [-1,-0.5,0,0.5], yLabels: ['\u22121.0','\u22120.5','0.0','0.5'],
      eastLine: p408EastLine, northLine: p408NorthLine, eastUp: p408EastUp, eastLo: p408EastLo, northUp: p408NorthUp, northLo: p408NorthLo, eastDots: p408EastDots, northDots: p408NorthDots },
    { name: 'P411', plot: [431, 342, 155, 197], yMin: -1.209, yMax: 0.668, yTicks: [-1,-0.5,0,0.5], yLabels: ['\u22121.0','\u22120.5','0.0','0.5'],
      eastLine: p411EastLine, northLine: p411NorthLine, eastUp: p411EastUp, eastLo: p411EastLo, northUp: p411NorthUp, northLo: p411NorthLo, eastDots: p411EastDots, northDots: p411NorthDots },
    { name: 'P415', plot: [658, 342, 155, 197], yMin: -1.352, yMax: 0.732, yTicks: [-1,-0.5,0,0.5], yLabels: ['\u22121.0','\u22120.5','0.0','0.5'],
      eastLine: p415EastLine, northLine: p415NorthLine, eastUp: p415EastUp, eastLo: p415EastLo, northUp: p415NorthUp, northLo: p415NorthLo, eastDots: p415EastDots, northDots: p415NorthDots },
    { name: 'P425', plot: [885, 342, 155, 197], yMin: -1.153, yMax: 0.736, yTicks: [-1,-0.5,0,0.5], yLabels: ['\u22121.0','\u22120.5','0.0','0.5'],
      eastLine: p425EastLine, northLine: p425NorthLine, eastUp: p425EastUp, eastLo: p425EastLo, northUp: p425NorthUp, northLo: p425NorthLo, eastDots: p425EastDots, northDots: p425NorthDots }
];

const FONT = '"Liberation Sans", Arial, sans-serif';
const PAD_LEFT = 46, PAD_TOP = 4, PAD_BOTTOM = 34, PAD_RIGHT = 3;

function addText(text, x, y, size, extra) {
    const d = document.createElement('div');
    d.className = 'txt' + (extra && extra.rot ? ' rot' : '');
    d.textContent = text;
    d.style.left = x + 'px';
    d.style.top = y + 'px';
    d.style.fontSize = size + 'px';
    if (extra && extra.bold) d.style.fontWeight = 'bold';
    document.body.appendChild(d);
}

// box round the plot + R style rotated y labels
const rFrame = {
    id: 'rFrame',
    afterDraw(chart, args, opts) {
        const { ctx, chartArea: a, scales } = chart;
        ctx.save();
        ctx.strokeStyle = '#000';
        ctx.lineWidth = 1;
        ctx.strokeRect(Math.round(a.left) + 0.5, Math.round(a.top) + 0.5, Math.round(a.right - a.left), Math.round(a.bottom - a.top));
        ctx.fillStyle = '#222';
        ctx.font = opts.size + 'px ' + FONT;
        ctx.textAlign = 'center';
        ctx.textBaseline = 'middle';
        opts.ticks.forEach((v, i) => {
            ctx.save();
            ctx.translate(a.left - opts.offset, scales.y.getPixelForValue(v));
            ctx.rotate(-Math.PI / 2);
            ctx.fillText(opts.labels[i], 0, 0);
            ctx.restore();
        });
        ctx.restore();
    }
};

const stationText = {
    id: 'stationText',
    afterDatasetsDraw(chart) {
        const { ctx, scales } = chart;
        ctx.save();
        ctx.fillStyle = '#b22222';
        ctx.font = '10px ' + FONT;
        ctx.textBaseline = 'middle';
        stationLabels.forEach((name, i) => {
            ctx.fillText(name, scales.x.getPixelForValue(stationLabelLon[i]) + 7.3, scales.y.getPixelForValue(stationLabelLat[i]));
        });
        ctx.restore();
    }
};

function makeCanvas(plot) {
    const c = document.createElement('canvas');
    c.width = plot[2] + PAD_LEFT + PAD_RIGHT;
    c.height = plot[3] + PAD_TOP + PAD_BOTTOM;
    c.style.left = (plot[0] - PAD_LEFT) + 'px';
    c.style.top = (plot[1] - PAD_TOP) + 'px';
    document.body.appendChild(c);
    return c;
}

function axis(min, max, ticks, labels, size, tickLen, pad, fixed) {
    return {
        type: 'linear', min: min, max: max,
        border: { display: false },
        grid: { drawOnChartArea: false, color: '#000', tickLength: tickLen, lineWidth: 1 },
        ticks: { display: labels !== null, color: '#222', autoSkip: false, maxRotation: 0, padding: pad, font: { size: size, family: FONT },
            callback: v => labels ? labels[ticks.indexOf(v)] : '' },
        afterBuildTicks: ax => { ax.ticks = ticks.map(v => ({ value: v })); },
        afterFit: ax => { if (ax.axis === 'x') ax.height = fixed; else ax.width = fixed; }
    };
}

function chartOptions(xAxis, yAxis, frame) {
    return {
        responsive: false,
        animation: false,
        layout: { padding: { top: PAD_TOP, right: PAD_RIGHT, left: 0, bottom: 0 } },
        plugins: { legend: { display: false }, tooltip: { enabled: false }, rFrame: frame },
        scales: { x: xAxis, y: yAxis }
    };
}

function pairs(xs, ys) {
    return ys.map((v, i) => ({ x: xs[i], y: v }));
}

// ---- panel (a) ----
function drawMap() {
    const arrows = stationLon.map((v, i) => i).filter(i => tipLon[i] !== null);
    const shafts = [];
    arrows.forEach(i => {
        shafts.push({ x: stationLon[i], y: stationLat[i] }, { x: tipLon[i], y: tipLat[i] }, { x: null, y: null });
    });
    const datasets = [
        { data: pairs(stationLon, stationLat), showLine: false, pointRadius: 2.3, pointBackgroundColor: '#000', pointBorderWidth: 0 },
        { data: arrows.map(i => ({ x: tipLon[i], y: tipLat[i] })), showLine: false, pointStyle: 'triangle', pointRadius: 2.4,
          pointBackgroundColor: '#000', pointBorderWidth: 0,
          pointRotation: ctx => {
              const i = arrows[ctx.dataIndex];
              const s = ctx.chart.scales;
              const dx = s.x.getPixelForValue(tipLon[i]) - s.x.getPixelForValue(stationLon[i]);
              const dy = s.y.getPixelForValue(tipLat[i]) - s.y.getPixelForValue(stationLat[i]);
              return Math.atan2(dx, -dy) * 180 / Math.PI;
          } },
        { data: shafts, borderColor: '#000', borderWidth: 1, pointRadius: 0, spanGaps: false }
    ];
    coastPieces.forEach(piece => {
        datasets.push({ data: piece.map(p => ({ x: p[0], y: p[1] })), borderColor: '#000', borderWidth: 1.2, pointRadius: 0 });
    });
    const plot = [57, 33, 293, 489];
    new Chart(makeCanvas(plot), {
        type: 'line',
        data: { datasets: datasets },
        options: chartOptions(
            axis(-124.575, -122.416, lonTicks, lonTickLabels, 12, 7, 11, PAD_BOTTOM),
            axis(43.276, 48.833, latTicks, null, 12, 7, 3, PAD_LEFT),
            { ticks: latTicks, labels: latTickLabels, size: 12, offset: 21 }
        ),
        plugins: [rFrame, stationText]
    });
}

// ---- panels (b) ----
function drawPanel(p) {
    const band = (up, lo, colour) => [
        { data: pairs(bandDays, up), borderWidth: 0, pointRadius: 0, fill: '+1', backgroundColor: colour },
        { data: pairs(bandDays, lo), borderWidth: 0, pointRadius: 0 }
    ];
    const datasets = [
        { data: pairs(dotDays, p.northDots), showLine: false, pointRadius: 1.5, pointBorderWidth: 1, pointBorderColor: 'rgba(255,105,180,0.9)', pointBackgroundColor: 'transparent' },
        { data: pairs(lineDays, p.northLine), borderColor: '#ff69b4', borderWidth: 2.6, pointRadius: 0 },
        ...band(p.northUp, p.northLo, 'rgba(255,105,180,0.38)'),
        { data: pairs(dotDays, p.eastDots), showLine: false, pointRadius: 1.5, pointBorderWidth: 1, pointBorderColor: 'rgba(0,0,170,0.75)', pointBackgroundColor: 'transparent' },
        { data: pairs(lineDays, p.eastLine), borderColor: '#00008b', borderWidth: 2.6, pointRadius: 0 },
        ...band(p.eastUp, p.eastLo, 'rgba(0,0,139,0.35)')
    ];
    new Chart(makeCanvas(p.plot), {
        type: 'line',
        data: { datasets: datasets },
        options: chartOptions(
            axis(-2.36, 88.36, dayTicks, dayTickLabels, 10, 6, 9, PAD_BOTTOM),
            axis(p.yMin, p.yMax, p.yTicks, null, 10, 6, 3, PAD_LEFT),
            { ticks: p.yTicks, labels: p.yLabels, size: 10, offset: 19 }
        ),
        plugins: [rFrame]
    });
    addText(p.name, p.plot[0] + 77, p.plot[1] - 18.5, 12, { bold: true });
}

drawMap();
panels.forEach(drawPanel);

addText('(a) Locations of GPS stations', 203, 9, 17);
addText('Longitude', 203, 561, 16);
addText('Latitude', 16, 281, 16, { rot: true });
addText('(b) Displacements at selected stations', 741, 22, 19.2);
addText('Displacements (cm)', 389, 290, 17, { rot: true });
</script>
</body>
</html>
